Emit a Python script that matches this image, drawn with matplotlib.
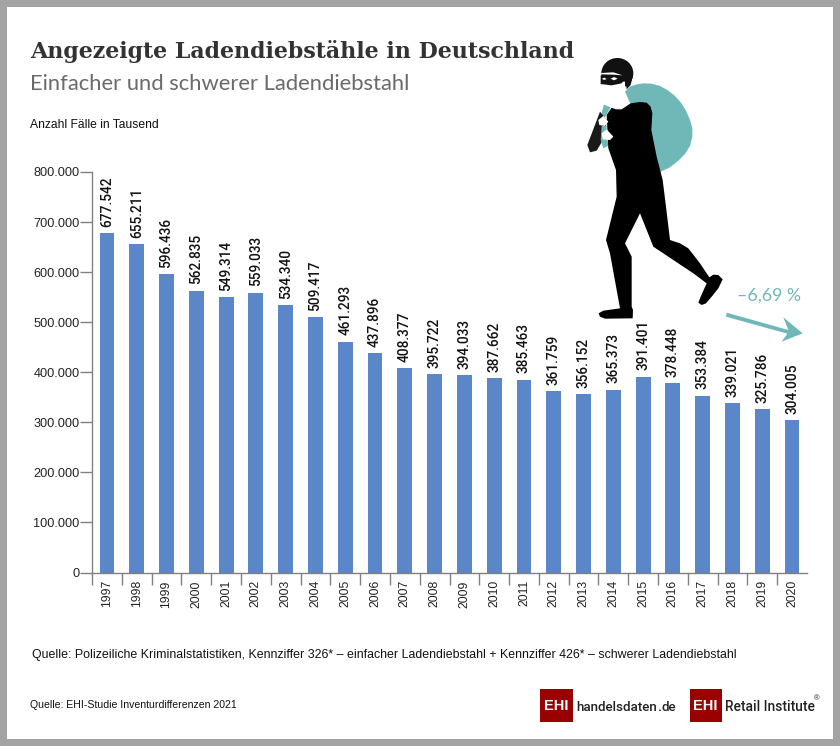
import matplotlib
matplotlib.use('Agg')
import matplotlib.pyplot as plt
from matplotlib.patches import Rectangle, Polygon, Ellipse

years = [1997, 1998, 1999, 2000, 2001, 2002, 2003, 2004, 2005, 2006, 2007, 2008,
         2009, 2010, 2011, 2012, 2013, 2014, 2015, 2016, 2017, 2018, 2019, 2020]
cases = [677542, 655211, 596436, 562835, 549314, 559033, 534340, 509417,
         461293, 437896, 408377, 395722, 394033, 387662, 385463, 361759,
         356152, 365373, 391401, 378448, 353384, 339021, 325786, 304005]
y_ticks = [0, 100000, 200000, 300000, 400000, 500000, 600000, 700000, 800000]

W, H = 840, 746
BLUE = '#5b87c8'
TEAL = '#70b8b8'
RED = '#990000'
GREY = '#808080'
SANS = 'Liberation Sans'


def de(v):
    return f'{v:,}'.replace(',', '.')


# thief outline was traced in 3x zoom coordinates of the region starting at 580,40
def z(points):
    return [(580 + x / 3, 40 + y / 3) for x, y in points]


fig = plt.figure(figsize=(W / 100, H / 100), dpi=100, facecolor='#a3a3a3')

# page layer in pixel coordinates
bg = fig.add_axes([0, 0, 1, 1])
bg.set_xlim(0, W)
bg.set_ylim(H, 0)
bg.axis('off')
bg.add_patch(Rectangle((7, 7), 826, 732, fc='white', ec='none'))

bg.text(30, 58, 'Angezeigte Ladendiebstähle in Deutschland', family='DejaVu Serif',
        weight='bold', fontsize=15.95, color='#333333', va='baseline')
bg.text(30, 90, 'Einfacher und schwerer Ladendiebstahl', family='Lato',
        fontsize=15.8, color='#6a6a6a', va='baseline')
bg.text(30, 128, 'Anzahl Fälle in Tausend', family=SANS, fontsize=8.7, color='#111111', va='baseline')
bg.text(32, 658, 'Quelle: Polizeiliche Kriminalstatistiken, Kennziffer 326* – einfacher Ladendiebstahl'
        ' + Kennziffer 426* – schwerer Ladendiebstahl', family=SANS, fontsize=8.9,
        color='#111111', va='baseline')
bg.text(30, 708, 'Quelle: EHI-Studie Inventurdifferenzen 2021', family=SANS, fontsize=7.55,
        color='#111111', va='baseline')

# logos
for lx in (540, 689.5):
    bg.add_patch(Rectangle((lx, 689), 32.5, 32.5, fc=RED, ec='none'))
    bg.text(lx + 16.2, 705.5, 'EHI', family=SANS, weight='bold', fontsize=10.5, color='white',
            ha='center', va='center')
bg.text(576, 711, 'handelsdaten', family='Roboto', weight='medium', fontsize=9.6, color='#222222', va='baseline')
bg.text(657, 711, '.', family='Roboto', weight='bold', fontsize=9.6, color=RED, va='baseline')
bg.text(661, 711, 'de', family='Roboto', weight='medium', fontsize=9.6, color='#222222', va='baseline')
bg.text(725, 711, 'Retail Institute', family='Roboto', weight='medium', fontsize=9.9, color='#222222', va='baseline')
bg.text(814, 700, '®', family=SANS, fontsize=5.5, color='#222222', va='baseline')

# chart
ax = fig.add_axes([92.1 / W, 1 - 572.5 / H, 714.8 / W, 400.5 / H])
ax.patch.set_alpha(0)
x = range(len(years))
ax.bar(x, cases, width=0.5, color=BLUE)
ax.set_xlim(-0.5, len(years) - 0.5)
ax.set_ylim(0, 800000)
ax.set_yticks(y_ticks)
ax.set_yticklabels([de(v) for v in y_ticks], family=SANS, fontsize=9.2, color='#222222')
ax.set_xticks([i - 0.5 for i in x], minor=False)
ax.set_xticklabels([])
ax.tick_params(axis='both', length=8.5, width=1, color=GREY)
ax.tick_params(axis='y', pad=0.5)
for s in ('top', 'right'):
    ax.spines[s].set_visible(False)
for s in ('left', 'bottom'):
    ax.spines[s].set_color(GREY)
    ax.spines[s].set_linewidth(1)

for i, year in enumerate(years):
    ax.annotate(str(year), (i, 0), xytext=(0, -5.5), textcoords='offset points', rotation=90,
                ha='center', va='top', family=SANS, fontsize=8.7, color='#222222')
    ax.annotate(de(cases[i]), (i, cases[i]), xytext=(0, 4.5), textcoords='offset points', rotation=90,
                ha='center', va='bottom', family='Roboto', weight='medium', fontsize=9.8, color='#111111')

# thief and arrow on top
over = fig.add_axes([0, 0, 1, 1])
over.set_xlim(0, W)
over.set_ylim(H, 0)
over.axis('off')

sack = [(135, 155), (150, 140), (170, 133), (190, 130), (215, 131), (240, 138), (262, 150),
        (285, 168), (303, 188), (318, 212), (330, 240), (337, 265), (337, 290), (330, 318),
        (315, 342), (295, 362), (270, 382), (240, 396), (200, 300)]
body = [(80, 225), (95, 203), (108, 208), (125, 208), (140, 198), (152, 190), (180, 186), (200, 188),
        (212, 200), (217, 220), (214, 270), (230, 350), (248, 420), (258, 500), (270, 600),
        (300, 610), (325, 625), (360, 670), (388, 712), (400, 704), (415, 705), (428, 718),
        (415, 745), (395, 770), (378, 790), (365, 795), (355, 788), (362, 770), (380, 730),
        (340, 700), (220, 620), (180, 520), (135, 610), (155, 650), (155, 800), (159, 810),
        (158, 835), (75, 836), (60, 830), (56, 820), (70, 812), (120, 805), (90, 640), (78, 600),
        (110, 470), (108, 390), (85, 325)]
arm = [(60, 215), (22, 315), (30, 337), (50, 332), (75, 290), (80, 240)]
strap_top = [(75, 182), (105, 180), (90, 205), (75, 232), (63, 225)]
strap_low = [(65, 258), (80, 258), (80, 300), (98, 310), (70, 325), (62, 300)]
hand_top = [(55, 240), (70, 228), (85, 245), (75, 258), (58, 255)]
hand_low = [(65, 280), (80, 268), (100, 290), (90, 300), (68, 298)]
hood_tail = [(158, 110), (152, 135), (140, 148), (136, 120)]
mask = [(62, 106), (100, 110), (140, 106), (125, 130), (95, 136), (62, 132)]
band = [(64, 99), (100, 97), (128, 106), (100, 104), (64, 103)]
eye_l = [(66, 116), (73, 113), (80, 117), (72, 120)]
eye_r = [(92, 116), (102, 111), (113, 116), (102, 121)]
arrow = [(440, 818), (625, 870), (610, 832), (668, 880), (605, 905), (622, 881), (438, 830)]

over.add_patch(Polygon(z(sack), fc=TEAL, ec='none'))
over.add_patch(Polygon(z(strap_top), fc=TEAL, ec='none'))
over.add_patch(Polygon(z(arm), fc='#1a1a18', ec='none'))
over.add_patch(Polygon(z(strap_low), fc=TEAL, ec='none'))
over.add_patch(Polygon(z(body), fc='black', ec='none'))
over.add_patch(Polygon(z(hand_top), fc='white', ec='none'))
over.add_patch(Polygon(z(hand_low), fc='white', ec='none'))
over.add_patch(Ellipse((580 + 112 / 3, 40 + 100 / 3), 96 / 3, 92 / 3, fc='#111111', ec='none'))
over.add_patch(Polygon(z(hood_tail), fc='#111111', ec='none'))
# face below the mask, hides the lower half of the hood
over.add_patch(Polygon(z([(62, 125), (135, 125), (135, 190), (100, 205), (62, 190)]), fc='white', ec='none'))
over.add_patch(Polygon(z(mask), fc='#111111', ec='none'))
over.add_patch(Polygon(z(band), fc='white', ec='none'))
over.add_patch(Polygon(z(eye_l), fc='white', ec='none'))
over.add_patch(Polygon(z(eye_r), fc='white', ec='none'))
over.add_patch(Polygon(z(arrow), fc=TEAL, ec='none'))
over.text(737, 301, '–6,69 %', family='Lato', fontsize=12.8, color=TEAL, va='baseline')

fig.savefig('out.png', dpi=100, facecolor=fig.get_facecolor())
